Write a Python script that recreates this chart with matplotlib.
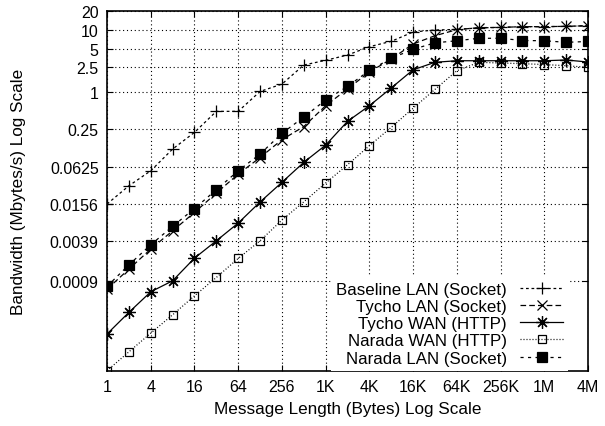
import matplotlib
matplotlib.use('Agg')
import matplotlib.pyplot as plt

plt.rcParams['font.family'] = ['Liberation Sans', 'DejaVu Sans']
plt.rcParams['font.size'] = 11.5

# message length = 2**k bytes, k = 0..22
msg_len = [2 ** k for k in range(23)]

baseline_lan = [0.0156, 0.0307, 0.0536, 0.120, 0.223, 0.487, 0.487, 1.02, 1.34,
                2.72, 3.24, 3.94, 5.37, 6.56, 9.27, 9.99, 10.2, 10.8, 11.0,
                11.3, 11.3, 11.45, 11.7]
tycho_lan = [6.62e-4, 1.39e-3, 2.93e-3, 5.77e-3, 0.0114, 0.0234, 0.0474, 0.0876,
             0.170, 0.277, 0.600, 1.12, 2.10, 3.40, 5.94, 8.08, 10.1, 10.9,
             11.0, 11.3, 11.3, 11.45, 11.7]
tycho_wan = [1.25e-4, 2.79e-4, 5.99e-4, 9.02e-4, 2.09e-3, 3.98e-3, 7.69e-3, 0.0168,
             0.0349, 0.0733, 0.139, 0.336, 0.600, 1.16, 2.28, 3.01, 3.19, 3.19,
             3.19, 3.19, 3.19, 3.28, 3.04]
narada_wan = [3.2e-5, 6.45e-5, 1.29e-4, 2.55e-4, 5.16e-4, 1.02e-3, 2.07e-3, 3.98e-3,
              8.6e-3, 0.0169, 0.034, 0.067, 0.136, 0.269, 0.547, 1.10, 2.20, 3.01,
              2.93, 2.86, 2.77, 2.65, 2.50]
narada_lan = [7.33e-4, 1.63e-3, 3.43e-3, 6.8e-3, 0.0132, 0.0265, 0.0536, 0.0998,
              0.215, 0.394, 0.742, 1.23, 2.22, 3.49, 4.88, 6.20, 6.70, 7.34,
              7.34, 6.76, 6.70, 6.32, 6.52]

xticks = [4 ** i for i in range(12)]
xtick_labels = ['1', '4', '16', '64', '256', '1K', '4K', '16K', '64K', '256K', '1M', '4M']
yticks = [0.0009, 0.0039, 0.0156, 0.0625, 0.25, 1, 2.5, 5, 10, 20]
ytick_labels = ['0.0009', '0.0039', '0.0156', '0.0625', '0.25', '1', '2.5', '5', '10', '20']

fig = plt.figure(figsize=(6.05, 4.27), dpi=100)
ax = fig.add_axes([0.1769, 0.1295, 0.795, 0.8417])

ax.plot(msg_len, baseline_lan, color='k', lw=0.9, dashes=(2.2, 2.2),
        marker='+', ms=8, mew=0.9, label='Baseline LAN (Socket)')
ax.plot(msg_len, tycho_lan, color='k', lw=0.9, dashes=(4.5, 2.5),
        marker='x', ms=6.5, mew=0.9, label='Tycho LAN (Socket)')
ax.plot(msg_len, tycho_wan, color='k', lw=0.9, ls='-',
        marker=(8, 2, 0), ms=9, mew=0.9, label='Tycho WAN (HTTP)')
ax.plot(msg_len, narada_wan, color='k', lw=0.9, dashes=(0.8, 1.6),
        marker='s', ms=6, mew=0.9, mfc='none', label='Narada WAN (HTTP)')
ax.plot(msg_len, narada_lan, color='k', lw=0.9, dashes=(2.5, 3.5),
        marker='s', ms=6.5, mew=0.9, label='Narada LAN (Socket)')

ax.set_xscale('log', base=2)
ax.set_yscale('log')
ax.set_xlim(1, 2 ** 22)
ax.set_ylim(3.2e-5, 20)
ax.set_xticks(xticks)
ax.set_xticklabels(xtick_labels)
ax.set_yticks(yticks)
ax.set_yticklabels(ytick_labels)
ax.minorticks_off()
ax.tick_params(direction='in', top=True, right=True, length=4, width=0.8, pad=6)
ax.grid(True, color='k', lw=0.8, ls=(0, (1, 2.5)))
for s in ax.spines.values():
    s.set_linewidth(1.2)

ax.set_xlabel('Message Length (Bytes) Log Scale', fontsize=12.3, labelpad=5)
ax.set_ylabel('Bandwidth (Mbytes/s) Log Scale', fontsize=12.3, labelpad=17)

leg = ax.legend(loc='lower right', bbox_to_anchor=(0.958, 0.0), markerfirst=False,
                frameon=True, fancybox=False, framealpha=1, edgecolor='none',
                facecolor='white', fontsize=12.2, handlelength=2.5,
                handletextpad=0.8, labelspacing=0.13, borderpad=0.3,
                borderaxespad=0)

fig.savefig('out.png', dpi=100)
